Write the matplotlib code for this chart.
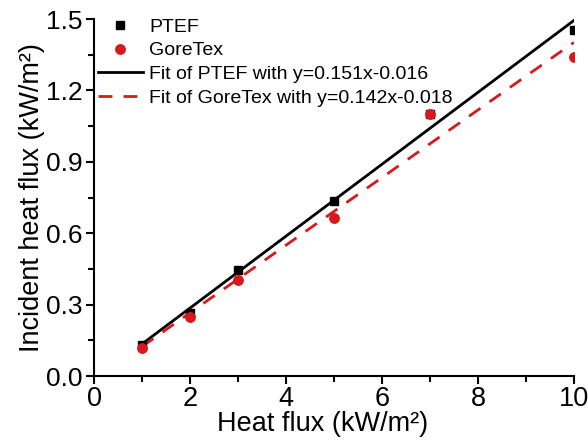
import matplotlib
matplotlib.use('Agg')
import matplotlib.pyplot as plt
from matplotlib.ticker import MultipleLocator

plt.rcParams['font.family'] = ['Liberation Sans', 'DejaVu Sans']

# measured points
flux = [1, 2, 3, 5, 7, 10]
ptef = [0.13, 0.265, 0.445, 0.735, 1.10, 1.455]
goretex = [0.12, 0.25, 0.405, 0.665, 1.10, 1.34]

# linear fit end points
fit_x = [1, 10]
ptef_fit = [0.135, 1.494]
goretex_fit = [0.124, 1.402]

RED = '#d7191c'

fig = plt.figure(figsize=(5.88, 4.43), dpi=100)
ax = fig.add_axes([0.160, 0.151, 0.816, 0.806])

ax.plot(flux, ptef, 's', color='black', ms=5.8, label='PTEF', zorder=3)
ax.plot(flux, goretex, 'o', color=RED, ms=6.8, label='GoreTex', zorder=3)
ax.plot(fit_x, ptef_fit, '-', color='black', lw=2,
        label='Fit of PTEF with y=0.151x-0.016')
ax.plot(fit_x, goretex_fit, '--', color=RED, lw=2, dashes=(5, 4),
        label='Fit of GoreTex with y=0.142x-0.018')

ax.set_xlim(0, 10)
ax.set_ylim(0, 1.5)
ax.xaxis.set_major_locator(MultipleLocator(2))
ax.xaxis.set_minor_locator(MultipleLocator(1))
ax.yaxis.set_major_locator(MultipleLocator(0.3))
ax.yaxis.set_minor_locator(MultipleLocator(0.15))

for s in ['top', 'right']:
    ax.spines[s].set_visible(False)
for s in ['left', 'bottom']:
    ax.spines[s].set_linewidth(1.5)

ax.tick_params(which='major', direction='out', length=6, width=1.5, pad=2)
ax.tick_params(axis='x', which='major', labelsize=19.5, pad=1)
ax.tick_params(axis='y', which='major', labelsize=19)
ax.tick_params(which='minor', direction='out', length=4, width=1.5)

ax.set_xlabel('Heat flux (kW/m²)', fontsize=19.5)
ax.set_ylabel('Incident heat flux (kW/m²)', fontsize=19.5, labelpad=1)
ax.xaxis.set_label_coords(0.477, -0.098)

ax.legend(loc='upper left', bbox_to_anchor=(0.008, 1.003), frameon=False, fontsize=14,
          handlelength=2.3, handletextpad=0.35, labelspacing=0.32,
          borderaxespad=0, borderpad=0)

fig.savefig('out.png', dpi=100)
